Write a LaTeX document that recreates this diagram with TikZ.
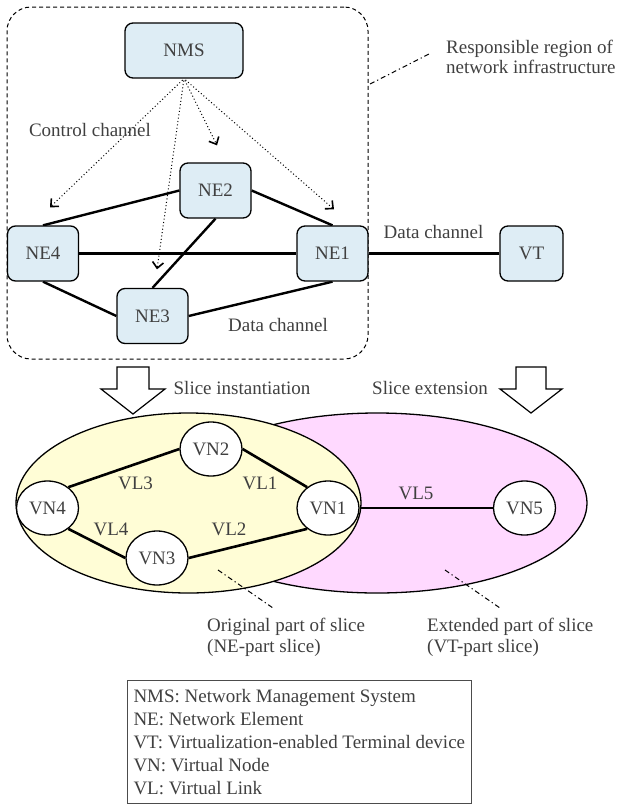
\documentclass[tikz,border=0pt]{standalone}
\usepackage{fontspec}
\setmainfont{Liberation Serif}
\usetikzlibrary{arrows.meta,shapes.geometric}
\definecolor{txt}{RGB}{64,64,64}
\definecolor{neblue}{RGB}{222,237,245}
\definecolor{slyellow}{RGB}{255,253,214}
\definecolor{slpink}{RGB}{255,217,255}
\pgfdeclarelayer{bg}
\pgfsetlayers{bg,main}
\begin{document}
\begin{tikzpicture}[x=1pt,y=-1pt,
  font=\fontsize{19}{21}\selectfont, text=txt,
  nebox/.style={draw=black, line width=1.3pt, fill=neblue, rounded corners=8pt,
    minimum width=71pt, minimum height=55pt, inner sep=0pt},
  vnode/.style={draw=black, line width=1.3pt, fill=white, ellipse,
    minimum width=62pt, minimum height=54pt, inner sep=0pt},
  datalink/.style={line width=2.4pt},
  vlink/.style={line width=2.6pt},
  ctrl/.style={line width=1pt, dash pattern=on 1pt off 2.4pt, shorten <=2pt,
    -{Straight Barb[length=6pt,width=11pt,line width=1.6pt]}},
  leader/.style={line width=1pt, dash pattern=on 5pt off 3pt on 1.2pt off 3pt},
  blockarrow/.style={draw=black, line width=1.2pt, fill=white, line join=miter},
  lbl/.style={inner sep=0pt}
]
\useasboundingbox (0,0) rectangle (621,812);

% ---------- network infrastructure ----------
\node[draw=black, line width=1pt, dash pattern=on 4pt off 3pt, rounded corners=24pt,
  minimum width=361pt, minimum height=352pt, inner sep=0pt] (region) at (187.5,183) {};

\node[nebox, minimum width=118pt] (NMS) at (184,50.5) {NMS};
\node[nebox] (NE2) at (215.5,190.5) {NE2};
\node[nebox] (NE4) at (43,253.5) {NE4};
\node[nebox] (NE1) at (332.5,253.5) {NE1};
\node[nebox] (NE3) at (152.5,316) {NE3};
\node[nebox, minimum width=63pt] (VT) at (531.5,253.5) {VT};

\begin{pgfonlayer}{bg}
% control channels
\draw[ctrl] (NMS.south) -- ([shift={(7,-18)}]NE4.north);
\draw[ctrl] (NMS.south) -- ([shift={(4.5,-18.5)}]NE3.north);
\draw[ctrl] (NMS.south) -- ([shift={(1.5,-17)}]NE2.north);
\draw[ctrl] (NMS.south) -- ([shift={(1.5,-16)}]NE1.north);

% data channels
\draw[datalink] (NE4.north) -- (NE2.west);
\draw[datalink] (NE2.east) -- (NE1.north);
\draw[datalink] (NE4.east) -- (NE1.west);
\draw[datalink] (NE2.south) -- (NE3.north);
\draw[datalink] (NE4.south) -- (NE3.west);
\draw[datalink] (NE3.east) -- (NE1.south);
\draw[datalink] (NE1.east) -- (VT.west);
\end{pgfonlayer}

\node[lbl] (cc) at (90,130) {Control channel};
\node[lbl] (dc1) at (433.5,232) {Data channel};
\node[lbl] (dc2) at (278,325) {Data channel};
\node[lbl, anchor=west, align=left, font=\fontsize{19}{20.5}\selectfont] (resp) at (446,57)
  {Responsible region of\\network infrastructure};
\coordinate (rs) at (370,84);
\coordinate (re) at (431,53);
\draw[leader] (rs) -- (re);

% ---------- block arrows ----------
\draw[blockarrow] (117,367) -- (149,367) -- (149,389) -- (165,389) -- (133,414)
  -- (101,389) -- (117,389) -- cycle;
\draw[blockarrow] (516,367) -- (546,367) -- (546,389) -- (562,389) -- (531,413)
  -- (500,389) -- (516,389) -- cycle;
\node[lbl] (si) at (242,388) {Slice instantiation};
\node[lbl] (se) at (430,388) {Slice extension};

% ---------- slices ----------
\draw[fill=slpink, line width=1.3pt] (377,503) ellipse [x radius=210pt, y radius=90pt];
\draw[fill=slyellow, line width=1.3pt] (188.5,503) ellipse [x radius=172.5pt, y radius=90pt];

\node[vnode] (VN4) at (47.5,508) {VN4};
\node[vnode] (VN2) at (211,449) {VN2};
\node[vnode] (VN1) at (328,508) {VN1};
\node[vnode] (VN3) at (157,558) {VN3};
\node[vnode] (VN5) at (524.5,508) {VN5};

\draw[vlink] (VN4.45) -- (VN2.west);
\draw[vlink] (VN2.east) -- (VN1.135);
\draw[vlink] (VN4.-45) -- (VN3.west);
\draw[vlink] (VN3.east) -- (VN1.-135);
\draw[vlink] (VN1.east) -- (VN5.west);

\node[lbl] (vl3) at (135.5,483) {VL3};
\node[lbl] (vl1) at (260,483) {VL1};
\node[lbl] (vl4) at (111,529) {VL4};
\node[lbl] (vl2) at (229,529) {VL2};
\node[lbl] (vl5) at (416,493) {VL5};

\coordinate (l1s) at (218,570);
\coordinate (l1e) at (273,608);
\coordinate (l2s) at (445,570);
\coordinate (l2e) at (500,608);
\draw[leader] (l1s) -- (l1e);
\draw[leader] (l2s) -- (l2e);

\node[lbl, anchor=west, align=left] (orig) at (207,637.5)
  {Original part of slice\\(NE-part slice)};
\node[lbl, anchor=west, align=left] (ext) at (427,637.5)
  {Extended part of slice\\(VT-part slice)};

% ---------- legend ----------
\node[draw=black!70, line width=1pt, anchor=north west, align=left,
  inner xsep=6pt, inner ysep=9pt, font=\fontsize{19}{23}\selectfont] (legend) at (127,680)
  {NMS: Network Management System\\
   NE: Network Element\\
   VT: Virtualization-enabled Terminal device\\
   VN: Virtual Node\\
   VL: Virtual Link};
\end{tikzpicture}
\end{document}
